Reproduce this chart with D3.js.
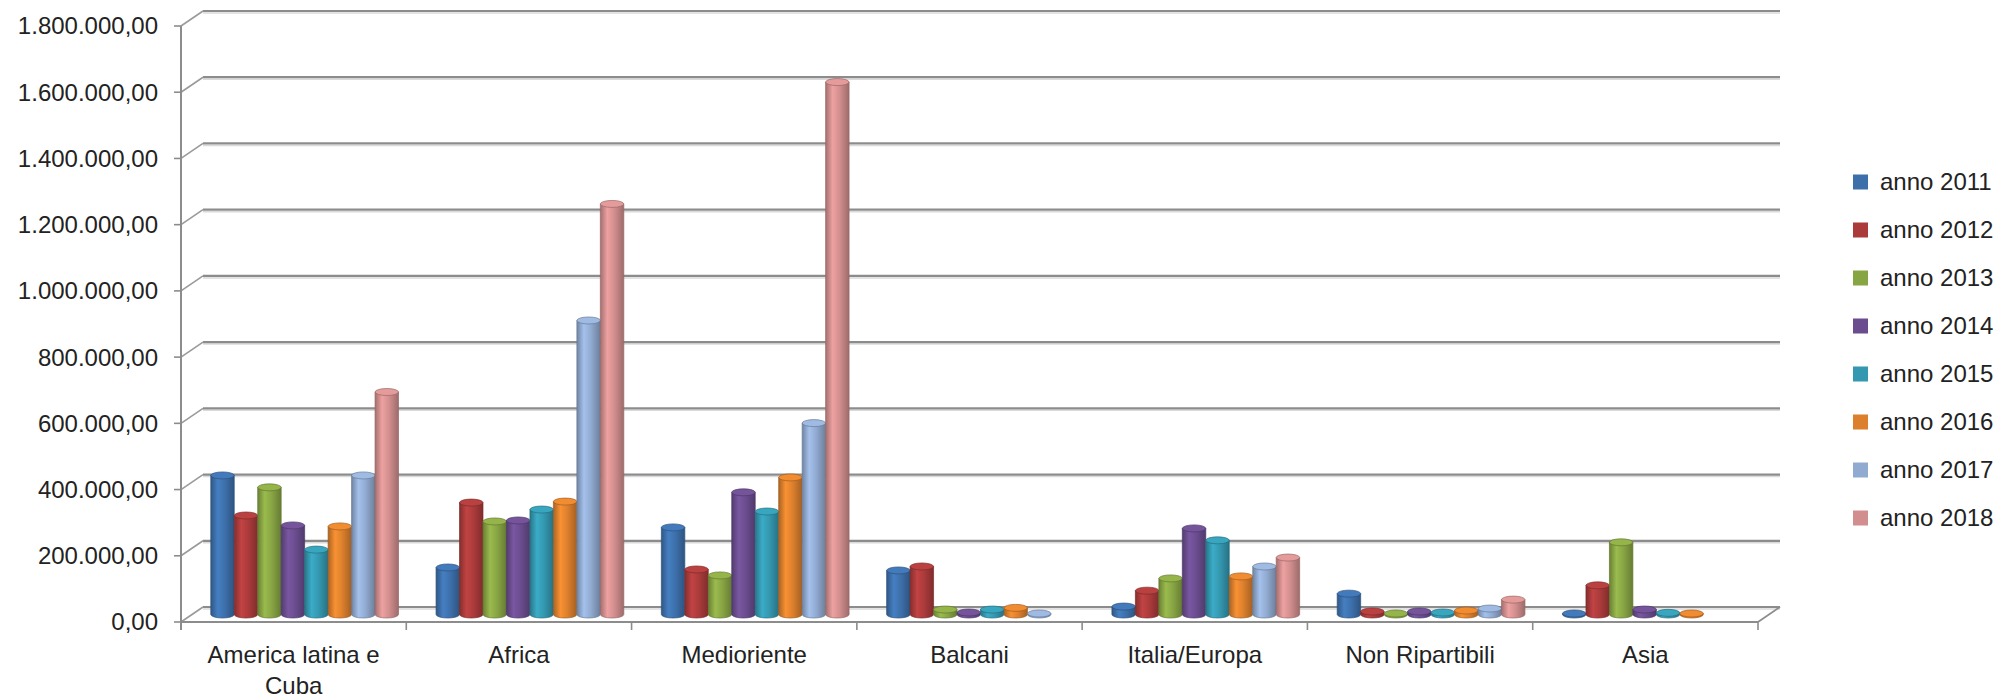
<!DOCTYPE html>
<html>
<head>
<meta charset="utf-8">
<title>Fondi per area geografica 2011-2018</title>
<script src="https://cdn.jsdelivr.net/npm/d3@7"></script>
<style>
  body { margin: 0; background: #fff; }
  text { font-family: "Liberation Sans", Arial, sans-serif; fill: #222; }
</style>
</head>
<body>
<svg id="chart" width="1999" height="700"></svg>
<script>
// data (euro)
const categories = ["America latina e Cuba", "Africa", "Medioriente", "Balcani", "Italia/Europa", "Non Ripartibili", "Asia"];
const years = ["anno 2011", "anno 2012", "anno 2013", "anno 2014", "anno 2015", "anno 2016", "anno 2017", "anno 2018"];
const anno2011 = [420000, 142000, 263000, 133000, 24000, 63000, 3000];
const anno2012 = [299000, 338000, 136000, 145000, 72000, 9000, 88000];
const anno2013 = [384000, 281000, 118000, 15000, 109000, 3000, 218000];
const anno2014 = [269000, 284000, 369000, 6000, 260000, 9000, 15000];
const anno2015 = [196000, 317000, 311000, 15000, 224000, 6000, 5000];
const anno2016 = [266000, 341000, 414000, 20000, 115000, 12000, 3000];
const anno2017 = [420000, 888000, 578000, 3000, 145000, 18000, 0];
const anno2018 = [672000, 1240000, 1608000, 0, 172000, 45000, 0];
const seriesValues = [anno2011, anno2012, anno2013, anno2014, anno2015, anno2016, anno2017, anno2018];
const yTicks = [0, 200000, 400000, 600000, 800000, 1000000, 1200000, 1400000, 1600000, 1800000];
const colors = ["#3d70ab", "#ab3b3b", "#88a544", "#6b4d8f", "#3498b0", "#dc802d", "#91aad0", "#d28e8e"];

const svg = d3.select("#chart");

// front plane of the plot and depth offset of the back wall
const plotLeft = 181, plotRight = 1758, plotBottom = 622, plotTop = 26;
const depthX = 22, depthY = -15;
const midX = depthX / 2, midY = depthY / 2;

const it = d3.formatLocale({decimal: ",", thousands: ".", grouping: [3], currency: ["€", ""]});
const fmt = it.format(",.2f");

const y = d3.scaleLinear().domain([0, 1800000]).range([plotBottom, plotTop]);
const x0 = d3.scaleBand().domain(categories).range([plotLeft, plotRight]);
const x1 = d3.scaleBand().domain(years).range([0, x0.bandwidth()]).paddingOuter(0.8);

const grid = svg.append("g");
yTicks.forEach(t => {
  const yy = y(t);
  // back wall gridline + a soft shadow under it
  grid.append("line")
    .attr("x1", plotLeft + depthX).attr("x2", plotRight + depthX)
    .attr("y1", yy + depthY + 2).attr("y2", yy + depthY + 2)
    .attr("stroke", "#dadada").attr("stroke-width", 1.5);
  grid.append("line")
    .attr("x1", plotLeft + depthX).attr("x2", plotRight + depthX)
    .attr("y1", yy + depthY).attr("y2", yy + depthY)
    .attr("stroke", "#8c8c8c").attr("stroke-width", 2.2);
  // side wall diagonal
  grid.append("line")
    .attr("x1", plotLeft).attr("y1", yy)
    .attr("x2", plotLeft + depthX).attr("y2", yy + depthY)
    .attr("stroke", "#9a9a9a").attr("stroke-width", 1.6);
  // tick
  grid.append("line")
    .attr("x1", plotLeft - 7).attr("x2", plotLeft)
    .attr("y1", yy).attr("y2", yy)
    .attr("stroke", "#8c8c8c").attr("stroke-width", 1.6);
  grid.append("text")
    .attr("x", 158).attr("y", yy)
    .attr("dy", "0.35em")
    .attr("text-anchor", "end")
    .style("font-size", "24px")
    .text(fmt(t));
});

// y axis and floor
grid.append("line")
  .attr("x1", plotLeft).attr("x2", plotLeft).attr("y1", plotTop).attr("y2", plotBottom + 8)
  .attr("stroke", "#8c8c8c").attr("stroke-width", 2);
grid.append("line")
  .attr("x1", plotLeft).attr("x2", plotRight).attr("y1", plotBottom).attr("y2", plotBottom)
  .attr("stroke", "#8c8c8c").attr("stroke-width", 2.2);
grid.append("line")
  .attr("x1", plotRight).attr("y1", plotBottom).attr("x2", plotRight + depthX).attr("y2", plotBottom + depthY)
  .attr("stroke", "#8c8c8c").attr("stroke-width", 1.8);

// category ticks
categories.concat([null]).forEach(c => {
  const xx = c ? x0(c) : plotRight;
  grid.append("line")
    .attr("x1", xx).attr("x2", xx).attr("y1", plotBottom).attr("y2", plotBottom + 8)
    .attr("stroke", "#8c8c8c").attr("stroke-width", 1.6);
});

// cylinder gradients
const defs = svg.append("defs");
colors.forEach((c, i) => {
  const g = defs.append("linearGradient").attr("id", "cyl" + i)
    .attr("x1", 0).attr("x2", 1).attr("y1", 0).attr("y2", 0);
  g.append("stop").attr("offset", "0%").attr("stop-color", d3.color(c).darker(0.7));
  g.append("stop").attr("offset", "30%").attr("stop-color", d3.color(c).brighter(0.35));
  g.append("stop").attr("offset", "60%").attr("stop-color", c);
  g.append("stop").attr("offset", "100%").attr("stop-color", d3.color(c).darker(0.8));
});

// bars as cylinders standing in the middle of the depth
const w = x1.bandwidth();
const rx = w / 2, ry = 3.5;
const bars = svg.append("g");
categories.forEach((cat, ci) => {
  years.forEach((yr, si) => {
    const v = seriesValues[si][ci];
    if (!v) return;
    const xa = x0(cat) + x1(yr) + midX;
    const yb = y(0) + midY;
    const yt = y(v) + midY;
    const c = d3.color(colors[si]);
    bars.append("path")
      .attr("d", `M${xa},${yt} L${xa},${yb} A${rx},${ry} 0 0 0 ${xa + w},${yb} L${xa + w},${yt} Z`)
      .attr("fill", `url(#cyl${si})`)
      .attr("stroke", c.darker(0.9))
      .attr("stroke-width", 0.7);
    bars.append("ellipse")
      .attr("cx", xa + rx).attr("cy", yt)
      .attr("rx", rx).attr("ry", ry)
      .attr("fill", c.brighter(0.25))
      .attr("stroke", c.darker(0.9))
      .attr("stroke-width", 0.7);
  });
});

// category labels, wrapped like the original
const labels = svg.append("g");
categories.forEach(cat => {
  const cx = x0(cat) + x0.bandwidth() / 2;
  const t = labels.append("text")
    .attr("x", cx)
    .attr("y", 663)
    .attr("text-anchor", "middle")
    .style("font-size", "24px");
  const words = cat.split(" ");
  let line = [];
  let span = t.append("tspan").attr("x", cx);
  words.forEach(wd => {
    line.push(wd);
    span.text(line.join(" "));
    if (span.node().getComputedTextLength() > 200 && line.length > 1) {
      line.pop();
      span.text(line.join(" "));
      line = [wd];
      span = t.append("tspan").attr("x", cx).attr("dy", "1.3em").text(wd);
    }
  });
});

// legend
const legend = svg.append("g");
years.forEach((yr, i) => {
  const ly = 182 + i * 48;
  legend.append("rect")
    .attr("x", 1853).attr("y", ly - 7.5).attr("width", 15).attr("height", 15)
    .attr("fill", colors[i]);
  legend.append("text")
    .attr("x", 1880).attr("y", ly).attr("dy", "0.35em")
    .style("font-size", "24px")
    .text(yr);
});
</script>
</body>
</html>
